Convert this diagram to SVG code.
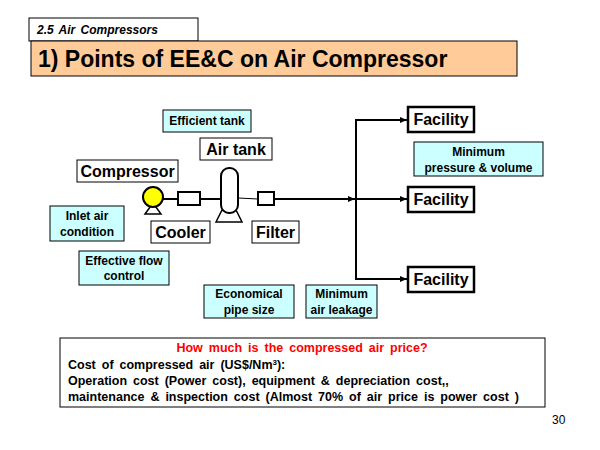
<svg xmlns="http://www.w3.org/2000/svg" width="600" height="450" viewBox="0 0 600 450">
<defs>
<style>
text{font-family:"Liberation Sans",Arial,sans-serif;font-weight:bold;fill:#000}
.note{fill:#CCFFFF;stroke:#000;stroke-width:1}
.lbl{fill:#fff;stroke:#000;stroke-width:1}
.fac{fill:#fff;stroke:#000;stroke-width:2.5}
.ln{stroke:#000;stroke-width:2;fill:none}
.s12{font-size:12px}
.s15{font-size:16px}
.cost{font-size:12.5px;word-spacing:2.5px}
</style>
<marker id="ar" markerWidth="8" markerHeight="8" refX="7" refY="4" orient="auto" markerUnits="userSpaceOnUse">
<path d="M0,1 L7,4 L0,7 z" fill="#000"/>
</marker>
</defs>
<rect width="600" height="450" fill="#fff"/>
<g id="header">
<rect x="29" y="18" width="169" height="23" fill="#fff" stroke="#000"/>
<text x="37" y="34" font-size="12" font-style="italic" word-spacing="2">2.5  Air Compressors</text>
<rect x="31" y="41" width="486" height="35" fill="#FFCC99" stroke="#000"/>
<text x="38" y="67" font-size="23">1) Points of EE&amp;C on Air Compressor</text>
</g>
<g id="connectors">
<line class="ln" x1="163" y1="199" x2="178" y2="199"/>
<line class="ln" x1="200" y1="199" x2="221" y2="199"/>
<line x1="238" y1="198" x2="258" y2="199" stroke="#000" stroke-width="1"/>
<line class="ln" x1="274" y1="199" x2="355" y2="199" marker-end="url(#ar)"/>
<polyline class="ln" points="407,120 356,120 356,279 407,279"/>
<line class="ln" x1="356" y1="199" x2="407" y2="199" marker-end="url(#ar)"/>
<line class="ln" x1="390" y1="120" x2="407" y2="120" marker-end="url(#ar)"/>
<line class="ln" x1="390" y1="279" x2="407" y2="279" marker-end="url(#ar)"/>
</g>
<g id="compressor-icon">
<path d="M145,214 L153,203 L161,214 z" fill="#fff" stroke="#000" stroke-width="1.5"/>
<circle cx="153" cy="197" r="10" fill="#FFFF00" stroke="#000" stroke-width="2"/>
</g>
<g id="cooler-icon"><rect x="178" y="192" width="22" height="13" fill="#fff" stroke="#000" stroke-width="2"/></g>
<g id="tank-icon">
<path d="M216,222 L222,210 L236,210 L242,222 z" fill="#fff" stroke="#000" stroke-width="1.5"/>
<rect x="221" y="168" width="17" height="45" rx="8" fill="#fff" stroke="#000" stroke-width="2"/>
</g>
<g id="filter-icon"><rect x="258" y="192" width="16" height="13" fill="#fff" stroke="#000" stroke-width="2"/></g>
<g id="facility1"><rect class="fac" x="408" y="107" width="66" height="25"/><text class="s15" x="441" y="125" text-anchor="middle">Facility</text></g>
<g id="facility2"><rect class="fac" x="408" y="187" width="66" height="25"/><text class="s15" x="441" y="205" text-anchor="middle">Facility</text></g>
<g id="facility3"><rect class="fac" x="408" y="267" width="66" height="25"/><text class="s15" x="441" y="285" text-anchor="middle">Facility</text></g>
<g id="efficient-tank"><rect class="note" x="163" y="110" width="88" height="22"/><text class="s12" x="207" y="125" text-anchor="middle">Efficient tank</text></g>
<g id="air-tank"><rect class="lbl" x="200" y="138" width="72" height="22"/><text class="s15" x="236" y="155" text-anchor="middle">Air tank</text></g>
<g id="compressor"><rect class="lbl" x="77" y="160" width="101" height="22"/><text class="s15" x="127.5" y="177" text-anchor="middle">Compressor</text></g>
<g id="inlet"><rect class="note" x="50" y="206" width="74" height="35"/><text class="s12" x="87" y="220" text-anchor="middle">Inlet air</text><text class="s12" x="87" y="236" text-anchor="middle">condition</text></g>
<g id="cooler"><rect class="lbl" x="151" y="221" width="59" height="22"/><text class="s15" x="180.5" y="238" text-anchor="middle">Cooler</text></g>
<g id="filter"><rect class="lbl" x="252" y="221" width="47" height="22"/><text class="s15" x="275.5" y="238" text-anchor="middle">Filter</text></g>
<g id="flow"><rect class="note" x="79" y="251" width="90" height="34"/><text class="s12" x="124" y="265" text-anchor="middle">Effective flow</text><text class="s12" x="124" y="280" text-anchor="middle">control</text></g>
<g id="pipe"><rect class="note" x="204" y="285" width="90" height="33"/><text class="s12" x="249" y="298" text-anchor="middle">Economical</text><text class="s12" x="249" y="314" text-anchor="middle">pipe size</text></g>
<g id="leakage"><rect class="note" x="306" y="285" width="71" height="33"/><text class="s12" x="341.5" y="298" text-anchor="middle">Minimum</text><text class="s12" x="341.5" y="314" text-anchor="middle">air leakage</text></g>
<g id="pressure"><rect class="note" x="414" y="142" width="129" height="34"/><text class="s12" x="478.5" y="156" text-anchor="middle">Minimum</text><text class="s12" x="478.5" y="172" text-anchor="middle">pressure &amp; volume</text></g>
<g id="cost">
<rect x="60" y="338" width="485" height="69" fill="#fff" stroke="#000"/>
<text class="cost" x="302" y="352" text-anchor="middle" style="fill:#FF0000">How much is the compressed air price?</text>
<text class="cost" x="68" y="369">Cost of compressed air (US$/Nm<tspan font-size="8" dy="-4">3</tspan><tspan dy="4">):</tspan></text>
<text class="cost" x="68" y="385">Operation cost (Power cost), equipment &amp; depreciation  cost,,</text>
<text class="cost" x="68" y="401">maintenance &amp; inspection cost  (Almost 70% of air price is power cost )</text>
</g>
<text x="552" y="424" font-size="12" style="font-weight:normal">30</text>
</svg>
